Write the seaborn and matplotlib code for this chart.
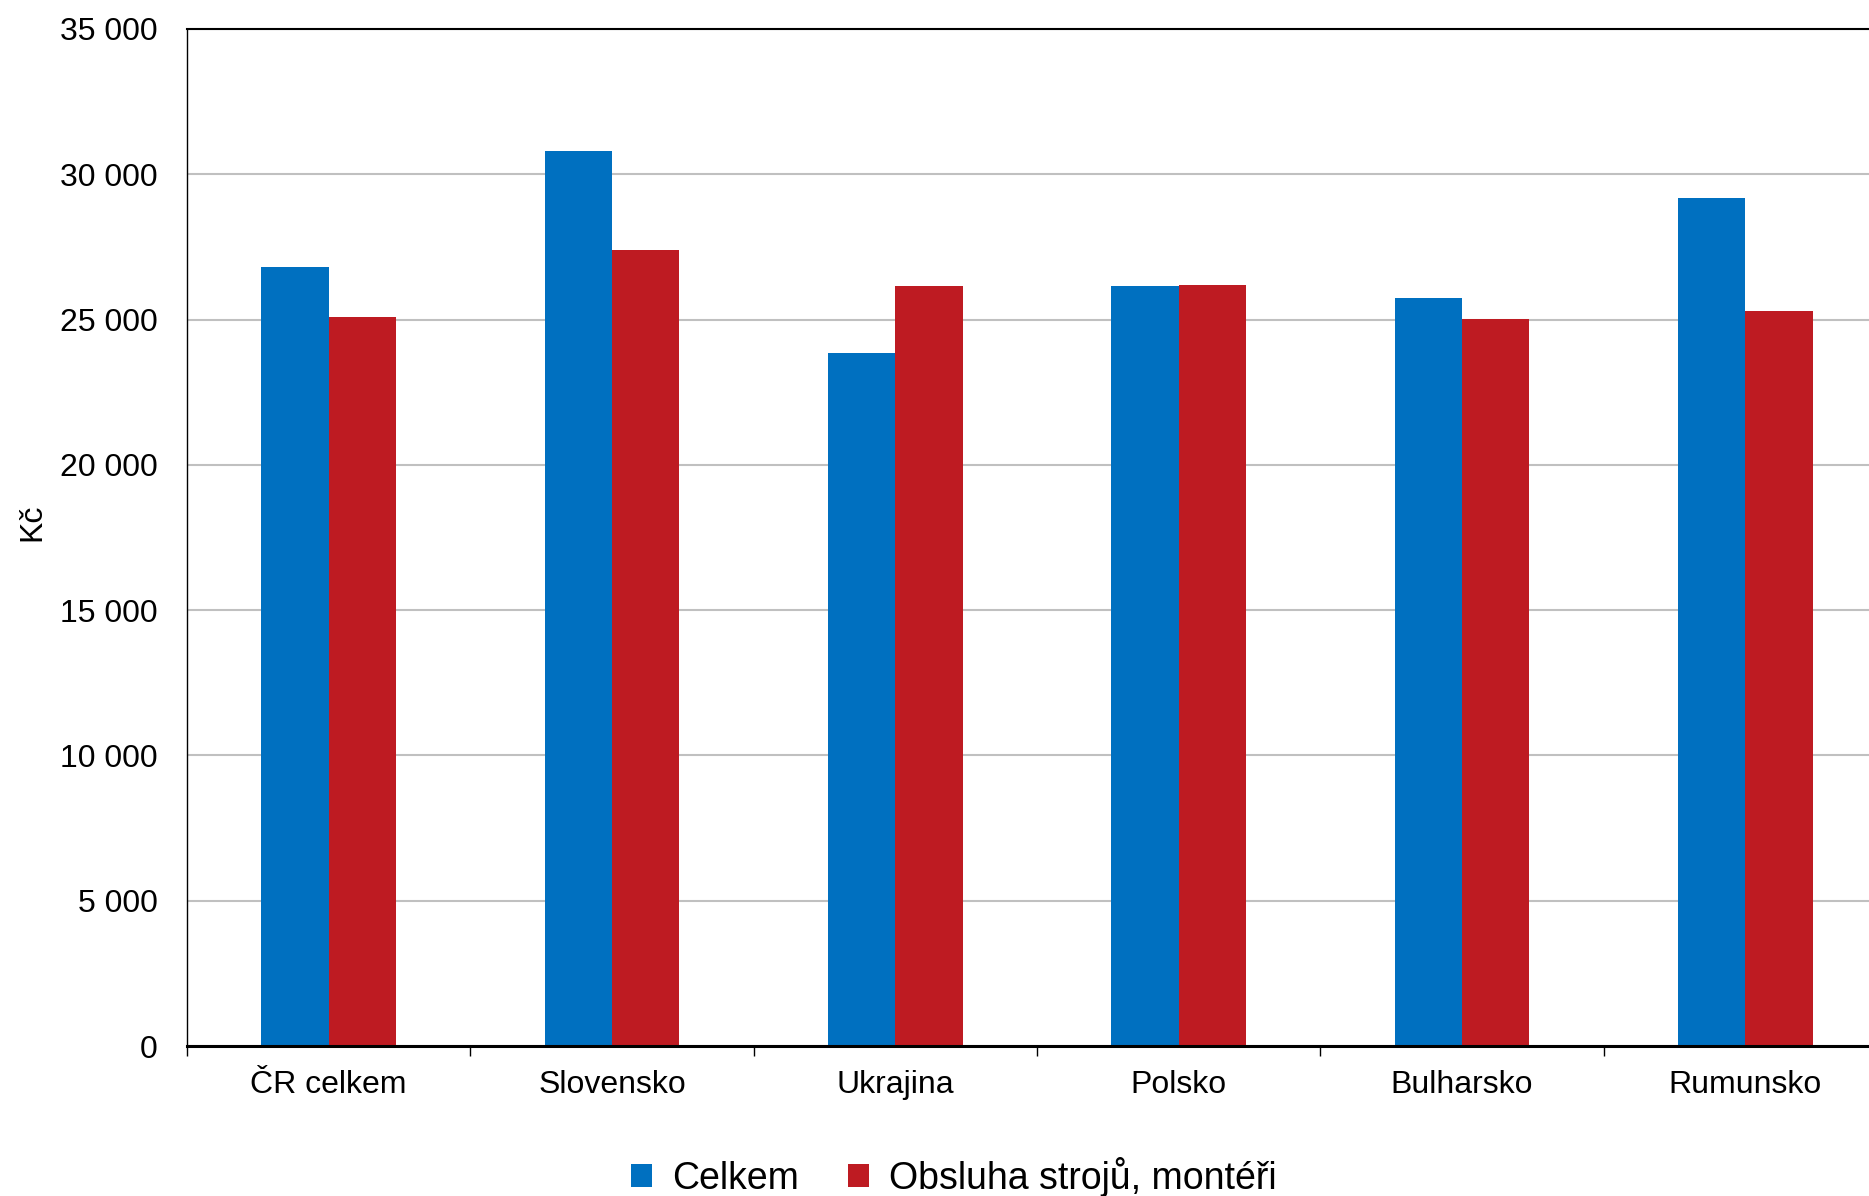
import pandas as pd
import matplotlib
matplotlib.use("Agg")
import matplotlib.pyplot as plt
import matplotlib.ticker as mticker
from matplotlib.patches import Patch
import seaborn as sns

# Data
countries = ["ČR celkem", "Slovensko", "Ukrajina", "Polsko", "Bulharsko", "Rumunsko"]
celkem = [26820, 30810, 23840, 26150, 25750, 29180]
obsluha = [25080, 27400, 26150, 26190, 25020, 25280]
series_names = ["Celkem", "Obsluha strojů, montéři"]
colors = {"Celkem": "#0070C0", "Obsluha strojů, montéři": "#BE1B22"}


def build_frame() -> pd.DataFrame:
    rows = []
    for name, values in zip(series_names, [celkem, obsluha]):
        for country, value in zip(countries, values):
            rows.append({"Země": country, "Řada": name, "Kč": value})
    return pd.DataFrame(rows)


def plot_chart(df: pd.DataFrame, output_path: str):
    sns.set_theme(style="white")
    plt.rcParams["font.family"] = ["Liberation Sans", "DejaVu Sans"]

    fig = plt.figure(figsize=(18.69, 11.96), dpi=100)
    ax = fig.add_axes([187 / 1869, 1 - 1046 / 1196, 1700 / 1869, 1017 / 1196])

    sns.barplot(
        data=df,
        x="Země",
        y="Kč",
        hue="Řada",
        order=countries,
        hue_order=series_names,
        palette=colors,
        width=0.475,
        saturation=1,
        errorbar=None,
        legend=False,
        ax=ax,
    )
    for patch in ax.patches:
        patch.set_linewidth(0)

    # Axes limits and grid
    ax.set_xlim(-0.5, len(countries) - 0.5)
    ax.set_ylim(0, 35000)
    ax.yaxis.set_major_locator(mticker.MultipleLocator(5000))
    ax.yaxis.set_major_formatter(
        mticker.FuncFormatter(lambda v, _: f"{int(v):,}".replace(",", " "))
    )
    ax.yaxis.grid(True, color="#C0C0C0", linewidth=1.5)
    ax.set_axisbelow(True)

    # Spines
    for side in ["top", "left", "bottom"]:
        ax.spines[side].set_visible(True)
        ax.spines[side].set_color("black")
    ax.spines["right"].set_visible(False)
    ax.spines["top"].set_linewidth(1.5)
    ax.spines["left"].set_linewidth(1.0)
    ax.spines["bottom"].set_linewidth(2.2)

    # Ticks: labels at centres, tick marks at category boundaries
    ax.set_xticks(range(len(countries)))
    ax.set_xticklabels(countries)
    ax.set_xticks([i - 0.5 for i in range(len(countries))], minor=True)
    ax.tick_params(axis="x", which="major", length=0, pad=17, labelsize=23, colors="black")
    ax.tick_params(axis="x", which="minor", length=7.5, width=1, direction="out",
                   color="black", bottom=True)
    ax.tick_params(axis="y", which="major", length=0, pad=21, labelsize=23, colors="black")

    ax.set_xlabel("")
    ax.set_ylabel("Kč", fontsize=23, color="black")
    ax.yaxis.set_label_coords(-0.082, 0.515)

    handles = [Patch(facecolor=colors[name], edgecolor="none", label=name)
               for name in series_names]
    fig.legend(
        handles=handles,
        loc="center",
        bbox_to_anchor=(954 / 1869, 1 - 1177 / 1196),
        ncol=2,
        frameon=False,
        fontsize=27,
        labelcolor="black",
        handlelength=0.55,
        handleheight=0.55,
        handletextpad=0.55,
        columnspacing=1.3,
    )

    fig.savefig(output_path, dpi=100)
    plt.close(fig)


def main():
    df = build_frame()
    plot_chart(df, "out.png")


if __name__ == "__main__":
    main()
